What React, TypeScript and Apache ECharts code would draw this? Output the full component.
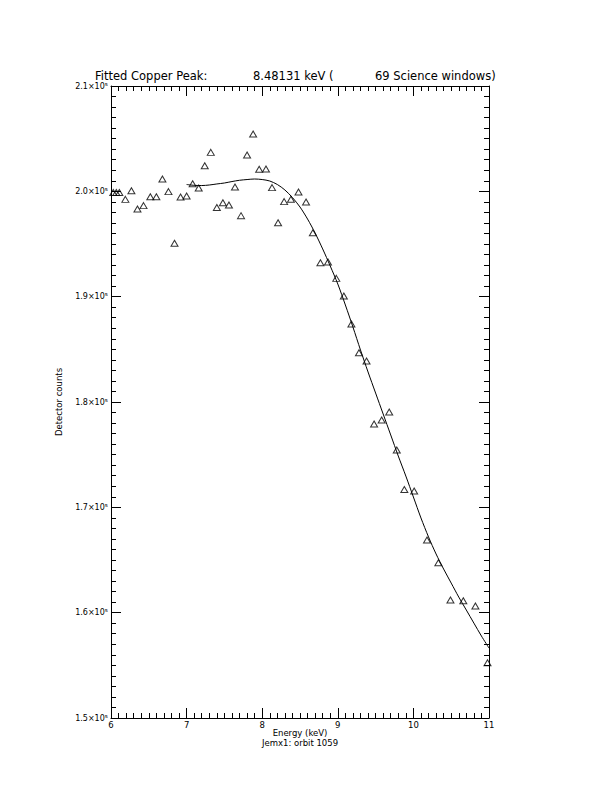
import React, { useEffect, useRef } from "react";
import * as echarts from "echarts";

// Measured spectrum points (energy in keV, detector counts)
const energy = [
  6.03, 6.07, 6.11, 6.19, 6.27, 6.35, 6.43, 6.52, 6.6, 6.68, 6.76, 6.84, 6.92,
  7.0, 7.08, 7.16, 7.24, 7.32, 7.4, 7.48, 7.56, 7.64, 7.72, 7.8, 7.88, 7.96,
  8.05, 8.13, 8.21, 8.29, 8.38, 8.48, 8.58, 8.67, 8.77, 8.87, 8.98, 9.08, 9.18,
  9.28, 9.38, 9.48, 9.58, 9.68, 9.78, 9.88, 10.01, 10.18, 10.33, 10.49, 10.66,
  10.82, 10.98,
];
const counts = [
  199890, 199890, 199890, 199240, 200060, 198320, 198640, 199490, 199490,
  201170, 199970, 195070, 199460, 199560, 200720, 200320, 202430, 203700,
  198470, 198920, 198700, 200410, 197690, 203450, 205440, 202090, 202120,
  200350, 197020, 199020, 199250, 199940, 198990, 196070, 193220, 193290,
  191740, 190060, 187400, 184680, 183890, 177910, 178290, 179050, 175440,
  171700, 171550, 166900, 164740, 161200, 161130, 160630, 155250,
];

// Fitted curve
const fitEnergy = [
  7.0, 7.1, 7.2, 7.3, 7.4, 7.5, 7.6, 7.7, 7.8, 7.9, 8.0, 8.1, 8.2, 8.3, 8.4,
  8.5, 8.6, 8.7, 8.8, 8.9, 9.0, 9.1, 9.2, 9.3, 9.4, 9.5, 9.6, 9.7, 9.8, 9.9,
  10.0, 10.1, 10.2, 10.3, 10.4, 10.5, 10.6, 10.7, 10.8, 10.9, 11.0,
];
const fitCounts = [
  200650, 200570, 200550, 200600, 200700, 200790, 200930, 201050, 201120,
  201170, 201120, 200980, 200650, 200130, 199410, 198510, 197370, 196040,
  194530, 192910, 191200, 189210, 187120, 184940, 182850, 180850, 178860,
  176870, 174870, 172970, 170980, 168990, 167190, 165570, 164140, 162810,
  161480, 160250, 159010, 157780, 156640,
];

const xTicks = [6, 11, 1];
const yTicks = [150000, 210000, 10000];

const titleParts = ["Fitted Copper Peak:", "8.48131 keV (", "69 Science windows)"];
const xName = "Energy (keV)";
const subName = "Jemx1: orbit 1059";
const yName = "Detector counts";

const FONT = "DejaVu Sans";

export default function App() {
  const ref = useRef<HTMLDivElement>(null);
  useEffect(() => {
    if (!ref.current) return;
    const chart = echarts.init(ref.current, null, { renderer: "svg" });
    const axisCommon = {
      axisLine: { show: true, onZero: false, lineStyle: { color: "#000", width: 1 } },
      axisTick: { show: true, inside: true, length: 10, lineStyle: { color: "#000", width: 1 } },
      minorTick: { show: true, splitNumber: 10, length: 5, lineStyle: { color: "#000", width: 1 } },
      splitLine: { show: false },
      minorSplitLine: { show: false },
    };
    const pts = energy.map((e, i) => [e, counts[i]]);
    const fit = fitEnergy.map((e, i) => [e, fitCounts[i]]);
    chart.setOption({
      animation: false,
      backgroundColor: "#fff",
      grid: { left: 111, top: 86, width: 378, height: 632 },
      xAxis: [
        {
          type: "value",
          min: xTicks[0],
          max: xTicks[1],
          interval: xTicks[2],
          position: "bottom",
          ...axisCommon,
          axisLabel: { color: "#000", fontSize: 8.5, fontFamily: FONT, margin: 2 },
        },
        {
          type: "value",
          min: xTicks[0],
          max: xTicks[1],
          interval: xTicks[2],
          position: "top",
          ...axisCommon,
          axisLabel: { show: false },
        },
      ],
      yAxis: [
        {
          type: "value",
          min: yTicks[0],
          max: yTicks[1],
          interval: yTicks[2],
          position: "left",
          ...axisCommon,
          axisLabel: {
            color: "#000",
            fontSize: 8,
            fontFamily: FONT,
            margin: 3,
            formatter: (v: number) => (v / 1e5).toFixed(1) + "×10⁵",
          },
        },
        {
          type: "value",
          min: yTicks[0],
          max: yTicks[1],
          interval: yTicks[2],
          position: "right",
          ...axisCommon,
          axisLabel: { show: false },
        },
      ],
      series: [
        {
          type: "line",
          data: fit,
          xAxisIndex: 0,
          yAxisIndex: 0,
          showSymbol: false,
          smooth: 0.3,
          lineStyle: { color: "#000", width: 1 },
          z: 2,
        },
        {
          type: "scatter",
          data: pts,
          xAxisIndex: 0,
          yAxisIndex: 0,
          symbol: "triangle",
          symbolSize: [7, 6],
          itemStyle: { color: "rgba(0,0,0,0)", borderColor: "#000", borderWidth: 1 },
          z: 3,
        },
      ],
      graphic: [
        { type: "text", x: 95, y: 76, style: { text: titleParts[0], font: `11.5px ${FONT}`, fill: "#000", align: "left", verticalAlign: "middle" } },
        { type: "text", x: 253, y: 76, style: { text: titleParts[1], font: `11.5px ${FONT}`, fill: "#000", align: "left", verticalAlign: "middle" } },
        { type: "text", x: 375, y: 76, style: { text: titleParts[2], font: `11.5px ${FONT}`, fill: "#000", align: "left", verticalAlign: "middle" } },
        { type: "text", x: 300, y: 733, style: { text: xName, font: `8.5px ${FONT}`, fill: "#000", align: "center", verticalAlign: "middle" } },
        { type: "text", x: 300, y: 743, style: { text: subName, font: `8.5px ${FONT}`, fill: "#000", align: "center", verticalAlign: "middle" } },
        { type: "text", x: 59, y: 402, rotation: Math.PI / 2, style: { text: yName, font: `8.5px ${FONT}`, fill: "#000", align: "center", verticalAlign: "middle" } },
      ],
    });
    return () => chart.dispose();
  }, []);
  return (
    <div
      ref={ref}
      style={{ position: "fixed", left: 0, top: 0, width: 612, height: 792, background: "#fff" }}
    />
  );
}
